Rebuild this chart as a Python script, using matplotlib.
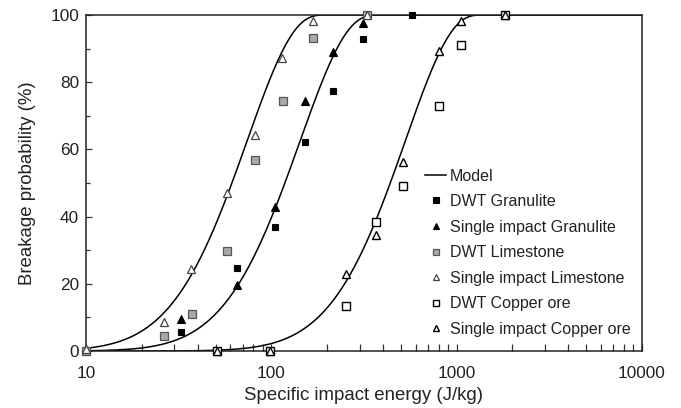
import math
import matplotlib
matplotlib.use('Agg')
import matplotlib.pyplot as plt
import numpy as np
from matplotlib.ticker import FixedLocator, NullFormatter

plt.rcParams['font.family'] = ['Liberation Sans', 'DejaVu Sans']

# measured points (energy J/kg, breakage probability %)
dwt_gran_e = [10, 32.4, 65.6, 104.7, 152, 216, 311, 573]
dwt_gran_p = [0, 5.7, 24.6, 37.0, 62.3, 77.5, 92.9, 100]
si_gran_e = [10, 32.4, 65.6, 104.7, 152, 216, 311]
si_gran_p = [0, 9.4, 19.6, 42.8, 74.4, 88.9, 97.7]
dwt_lime_e = [10, 26.4, 37.2, 57.4, 81.7, 115, 167, 327]
dwt_lime_p = [0, 4.5, 11.0, 29.9, 56.8, 74.4, 93.2, 100]
si_lime_e = [10, 26.4, 36.7, 57.4, 81.7, 113.7, 167, 327]
si_lime_p = [0.5, 8.7, 24.3, 46.9, 64.3, 87.1, 98.3, 100]
dwt_cu_e = [50.7, 98.5, 252, 367, 515, 803, 1057, 1824]
dwt_cu_p = [0, 0, 13.4, 38.5, 49.1, 72.9, 91.0, 100]
si_cu_e = [50.7, 98.5, 252, 367, 515, 803, 1057, 1824]
si_cu_p = [0, 0, 22.8, 34.5, 56.3, 89.4, 98.3, 100]

# model parameters (upper-truncated lognormal): E50, Emax, sigma
model_params = {
    'granulite': (168, 400, 0.88),
    'limestone': (87.4, 205, 0.88),
    'copper': (630, 1440, 0.88),
}


def model(e, e50, emax, sig):
    e = np.asarray(e, dtype=float)
    out = np.ones_like(e)
    m = e < emax
    z = np.log(e[m] * emax / (e50 * (emax - e[m]))) / (math.sqrt(2) * sig)
    out[m] = 0.5 * (1 + np.vectorize(math.erf)(z))
    return out * 100


fig = plt.figure(figsize=(6.81, 4.08), dpi=100)
ax = fig.add_axes([0.1263, 0.1397, 0.8164, 0.8235])

e_line = np.logspace(1, 4, 800)
for i, (k, (e50, emax, sig)) in enumerate(model_params.items()):
    ax.plot(e_line, model(e_line, e50, emax, sig), color='black', lw=1.1,
            label='Model' if i == 0 else None, zorder=2)

ms = 5
mk = dict(linestyle='none', clip_on=False, zorder=3)
ax.plot(dwt_gran_e, dwt_gran_p, marker='s', ms=ms, mfc='black', mec='black', mew=0.8,
        label='DWT Granulite', **mk)
ax.plot(si_gran_e, si_gran_p, marker='^', ms=ms + 0.5, mfc='black', mec='black', mew=0.8,
        label='Single impact Granulite', **mk)
ax.plot(dwt_lime_e, dwt_lime_p, marker='s', ms=ms + 0.5, mfc='#a9a9a9', mec='#555555', mew=0.9,
        label='DWT Limestone', **mk)
ax.plot(si_lime_e, si_lime_p, marker='^', ms=ms + 1, mfc='white', mec='#444444', mew=0.9,
        label='Single impact Limestone', **mk)
ax.plot(dwt_cu_e, dwt_cu_p, marker='s', ms=ms + 0.5, mfc='white', mec='black', mew=1.0,
        label='DWT Copper ore', **mk)
ax.plot(si_cu_e, si_cu_p, marker='^', ms=ms + 1, mfc='white', mec='black', mew=1.0,
        label='Single impact Copper ore', **mk)

ax.set_xscale('log')
ax.set_xlim(10, 10000)
ax.set_ylim(0, 100)
ax.set_xticks([10, 100, 1000, 10000], labels=['10', '100', '1000', '10000'])
ax.xaxis.set_minor_locator(FixedLocator([m * 10 ** d for d in range(1, 4) for m in range(2, 10)]))
ax.xaxis.set_minor_formatter(NullFormatter())
ax.set_yticks([0, 20, 40, 60, 80, 100])
ax.set_yticks([10, 30, 50, 70, 90], minor=True)
ax.tick_params(axis='both', which='both', direction='in', labelsize=12.4, width=0.9,
               color='#333333', labelcolor='#222222')
ax.tick_params(axis='x', which='major', length=5, pad=11)
ax.tick_params(axis='x', which='minor', length=5)
ax.tick_params(axis='y', which='major', length=4, pad=5)
ax.tick_params(axis='y', which='minor', length=3)
for s in ax.spines.values():
    s.set_linewidth(1.1)
    s.set_color('#222222')

ax.set_xlabel('Specific impact energy (J/kg)', fontsize=13.4, labelpad=4, color='#222222')
ax.set_ylabel('Breakage probability (%)', fontsize=13.4, labelpad=10, color='#222222')

leg = ax.legend(loc='lower left', bbox_to_anchor=(0.59, 0.009), frameon=False, fontsize=11.5,
                markerscale=0.75, handlelength=1.3, handletextpad=0.25, labelspacing=0.66,
                borderaxespad=0.3)
for t in leg.get_texts():
    t.set_color('#222222')

fig.savefig('out.png', dpi=100)
